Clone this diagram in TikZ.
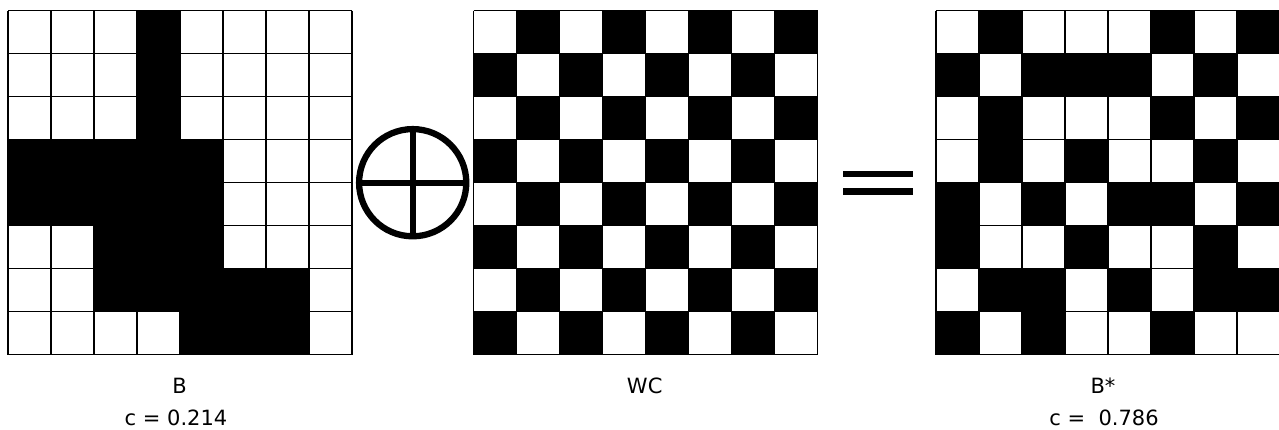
\documentclass[tikz,border=0pt]{standalone}
\usepackage{fontspec}
\setmainfont{DejaVu Sans}
\tikzset{
  gl/.style={draw=black, line width=1.1pt},
  blk/.style={fill=black},
  lbl/.style={font=\fontsize{21}{24}\selectfont, anchor=base, inner sep=0pt},
  opl/.style={line width=6.3pt, black},
}
\begin{document}
\begin{tikzpicture}[x=1pt,y=-1pt]
\useasboundingbox[fill=white] (0,0) rectangle (1279,430);
\def\pattern{{0,0,0,1,0,0,0,0},{0,0,0,1,0,0,0,0},{0,0,0,1,0,0,0,0},{1,1,1,1,1,0,0,0},{1,1,1,1,1,0,0,0},{0,0,1,1,1,0,0,0},{0,0,1,1,1,1,1,0},{0,0,0,0,1,1,1,0}}
% Grid B
\begin{scope}[shift={(8,10.7)}]
  \foreach \row [count=\r from 0] in \pattern {
    \foreach \v [count=\c from 0] in \row {
      \ifnum\v=1 \fill[blk] (\c*43,\r*43) rectangle ++(43,43); \fi
    }
  }
  \foreach \i in {0,...,8} {
    \draw[gl] (\i*43,0) -- (\i*43,344);
    \draw[gl] (0,\i*43) -- (344,\i*43);
  }
\end{scope}
% Grid WC
\begin{scope}[shift={(473.5,10.7)}]
  \foreach \r in {0,...,7} {
    \foreach \c in {0,...,7} {
      \pgfmathtruncatemacro\w{mod(\r+\c,2)}
      \ifnum\w=1 \fill[blk] (\c*43,\r*43) rectangle ++(43,43); \fi
    }
  }
  \foreach \i in {0,...,8} {
    \draw[gl] (\i*43,0) -- (\i*43,344);
    \draw[gl] (0,\i*43) -- (344,\i*43);
  }
\end{scope}
% Grid B*
\begin{scope}[shift={(936,10.7)}]
  \foreach \row [count=\r from 0] in \pattern {
    \foreach \v [count=\c from 0] in \row {
      \pgfmathtruncatemacro\w{mod(\v+\r+\c,2)}
      \ifnum\w=1 \fill[blk] (\c*43,\r*43) rectangle ++(43,43); \fi
    }
  }
  \foreach \i in {0,...,8} {
    \draw[gl] (\i*43,0) -- (\i*43,344);
    \draw[gl] (0,\i*43) -- (344,\i*43);
  }
\end{scope}
% XOR symbol
\coordinate (oc) at (412.7,182.7);
\draw[opl] (oc) circle[radius=53.6];
\draw[opl] ([yshift=-54pt]oc) -- ([yshift=54pt]oc);
\draw[opl] ([xshift=-54pt]oc) -- ([xshift=54pt]oc);
% equals sign
\fill[black] (843.3,170.7) rectangle (913.3,177.3);
\fill[black] (843.3,188.3) rectangle (913.3,195);
% labels
\node[lbl] (lB) at (179.7,393.3) {B};
\node[lbl] (cB) at (176,425) {c = 0.214};
\node[lbl] (lWC) at (644.7,393.3) {WC};
\node[lbl] (lBs) at (1103,393.3) {B*};
\node[lbl] (cBs) at (1104,425) {c =\ \ 0.786};
\end{tikzpicture}
\end{document}
